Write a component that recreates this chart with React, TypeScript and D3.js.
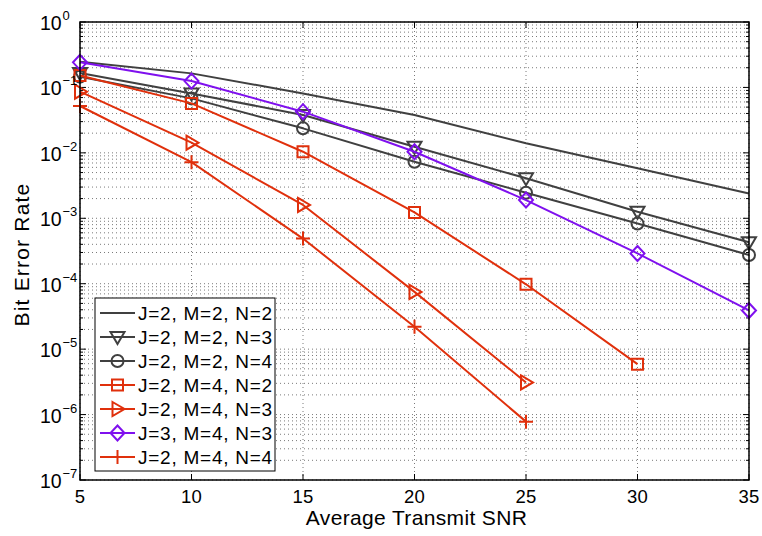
import React from 'react';
import * as d3 from 'd3';

// SNR points (dB) shared by all curves
const snr = [5, 10, 15, 20, 25, 30, 35];

// BER, one array per curve
const berJ2M2N2 = [0.247, 0.164, 0.081, 0.038, 0.014, 0.0058, 0.0024];
const berJ2M2N3 = [0.166, 0.081, 0.038, 0.0124, 0.0041, 0.00126, 0.00043];
const berJ2M2N4 = [0.146, 0.068, 0.0237, 0.0073, 0.00246, 0.00083, 0.000275];
const berJ2M4N2 = [0.152, 0.057, 0.0104, 0.00123, 9.8e-5, 5.9e-6];
const berJ2M4N3 = [0.086, 0.0143, 0.0016, 7.5e-5, 3.1e-6];
const berJ3M4N3 = [0.242, 0.125, 0.0426, 0.0104, 0.0019, 0.00029, 3.9e-5];
const berJ2M4N4 = [0.052, 0.0072, 0.00049, 2.2e-5, 7.8e-7];

const xTicks = [5, 10, 15, 20, 25, 30, 35];
const yExponents = [0, -1, -2, -3, -4, -5, -6, -7];

const GRAY = '#404040';
const RED = '#e0300c';
const PURPLE = '#7f10ee';

type Marker = 'none' | 'v' | 'o' | 's' | '>' | 'd' | '+';

const series: { label: string; values: number[]; color: string; marker: Marker }[] = [
  { label: 'J=2, M=2, N=2', values: berJ2M2N2, color: GRAY, marker: 'none' },
  { label: 'J=2, M=2, N=3', values: berJ2M2N3, color: GRAY, marker: 'v' },
  { label: 'J=2, M=2, N=4', values: berJ2M2N4, color: GRAY, marker: 'o' },
  { label: 'J=2, M=4, N=2', values: berJ2M4N2, color: RED, marker: 's' },
  { label: 'J=2, M=4, N=3', values: berJ2M4N3, color: RED, marker: '>' },
  { label: 'J=3, M=4, N=3', values: berJ3M4N3, color: PURPLE, marker: 'd' },
  { label: 'J=2, M=4, N=4', values: berJ2M4N4, color: RED, marker: '+' },
];

const W = 762;
const H = 536;
const margin = { top: 22, right: 13, bottom: 56, left: 80 };

const x = d3.scaleLinear().domain([5, 35]).range([margin.left, W - margin.right]);
const y = d3.scaleLog().domain([1e-7, 1]).range([H - margin.bottom, margin.top]);

const FONT = '"Liberation Sans", Arial, Helvetica, sans-serif';

function markerPath(m: Marker, cx: number, cy: number): string | null {
  const p = d3.path();
  switch (m) {
    case 'v':
      p.moveTo(cx - 7, cy - 5);
      p.lineTo(cx + 7, cy - 5);
      p.lineTo(cx, cy + 7);
      p.closePath();
      break;
    case '>':
      p.moveTo(cx - 5, cy - 7);
      p.lineTo(cx + 7, cy);
      p.lineTo(cx - 5, cy + 7);
      p.closePath();
      break;
    case 's':
      p.rect(cx - 5.5, cy - 5.5, 11, 11);
      break;
    case 'd':
      p.moveTo(cx, cy - 7.5);
      p.lineTo(cx + 7, cy);
      p.lineTo(cx, cy + 7.5);
      p.lineTo(cx - 7, cy);
      p.closePath();
      break;
    case 'o':
      p.moveTo(cx + 6, cy);
      p.arc(cx, cy, 6, 0, Math.PI * 2);
      break;
    case '+':
      p.moveTo(cx - 7, cy);
      p.lineTo(cx + 7, cy);
      p.moveTo(cx, cy - 7);
      p.lineTo(cx, cy + 7);
      break;
    default:
      return null;
  }
  return p.toString();
}

const MarkerShape = ({ m, cx, cy, color }: { m: Marker; cx: number; cy: number; color: string }) => {
  const d = markerPath(m, cx, cy);
  if (!d) return null;
  return <path d={d} fill="none" stroke={color} strokeWidth={2} />;
};

export default function App() {
  const x0 = margin.left;
  const x1 = W - margin.right;
  const y0 = H - margin.bottom;
  const y1 = margin.top;

  // minor log values 2..9 per decade
  const minor: number[] = [];
  for (let e = -7; e < 0; e++) {
    for (let k = 2; k <= 9; k++) minor.push(k * Math.pow(10, e));
  }

  const line = d3
    .line<number>()
    .x((_, i) => x(snr[i]))
    .y((d) => y(d));

  const legend = { left: 95, top: 298, width: 180, height: 173, row0: 313, step: 24 };

  return (
    <svg width={W} height={H} style={{ position: 'absolute', left: 0, top: 0 }} fontFamily={FONT}>
      <rect width={W} height={H} fill="#fff" />

      {/* grid */}
      <g stroke="#7a7a7a" strokeWidth={1} strokeDasharray="1,3" fill="none">
        {xTicks.map((t) => (
          <line key={`gx${t}`} x1={x(t)} x2={x(t)} y1={y0} y2={y1} />
        ))}
        {yExponents.map((e) => (
          <line key={`gy${e}`} x1={x0} x2={x1} y1={y(Math.pow(10, e))} y2={y(Math.pow(10, e))} />
        ))}
        {minor.map((v, i) => (
          <line key={`gm${i}`} x1={x0} x2={x1} y1={y(v)} y2={y(v)} />
        ))}
      </g>

      {/* ticks */}
      <g stroke="#000" strokeWidth={1}>
        {xTicks.map((t) => (
          <g key={`tx${t}`}>
            <line x1={x(t)} x2={x(t)} y1={y0} y2={y0 - 6} />
            <line x1={x(t)} x2={x(t)} y1={y1} y2={y1 + 6} />
          </g>
        ))}
        {yExponents.map((e) => (
          <g key={`ty${e}`}>
            <line x1={x0} x2={x0 + 6} y1={y(Math.pow(10, e))} y2={y(Math.pow(10, e))} />
            <line x1={x1} x2={x1 - 6} y1={y(Math.pow(10, e))} y2={y(Math.pow(10, e))} />
          </g>
        ))}
        {minor.map((v, i) => (
          <g key={`tm${i}`}>
            <line x1={x0} x2={x0 + 3} y1={y(v)} y2={y(v)} />
            <line x1={x1} x2={x1 - 3} y1={y(v)} y2={y(v)} />
          </g>
        ))}
      </g>

      {/* curves */}
      {series.map((s) => (
        <g key={s.label}>
          <path d={line(s.values) ?? ''} fill="none" stroke={s.color} strokeWidth={2} strokeLinejoin="round" />
          {s.values.map((v, i) => (
            <MarkerShape key={i} m={s.marker} cx={x(snr[i])} cy={y(v)} color={s.color} />
          ))}
        </g>
      ))}

      {/* frame */}
      <rect x={x0} y={y1} width={x1 - x0} height={y0 - y1} fill="none" stroke="#000" strokeWidth={1.5} />

      {/* x tick labels */}
      {xTicks.map((t) => (
        <text key={`lx${t}`} x={x(t)} y={502.5} textAnchor="middle" fontSize={18.5} letterSpacing={0.3} fill="#000">
          {t}
        </text>
      ))}

      {/* y tick labels */}
      {yExponents.map((e) => {
        const yy = y(Math.pow(10, e));
        return (
          <g key={`ly${e}`} fill="#000">
            <text x={40} y={yy + 8} fontSize={19.5}>
              10
            </text>
            <text x={62.5} y={yy - 2} fontSize={13}>
              {e === 0 ? '0' : `\u2212${-e}`}
            </text>
          </g>
        );
      })}

      {/* axis labels */}
      <text x={416.5} y={525} textAnchor="middle" fontSize={21} letterSpacing={0.35} fill="#000">
        Average Transmit SNR
      </text>
      <text
        transform={`translate(29,254.5) rotate(-90)`}
        textAnchor="middle"
        fontSize={21}
        letterSpacing={1.2}
        fill="#000"
      >
        Bit Error Rate
      </text>

      {/* legend */}
      <g>
        <rect
          x={legend.left}
          y={legend.top}
          width={legend.width}
          height={legend.height}
          fill="#fff"
          stroke="#000"
          strokeWidth={1}
        />
        {series.map((s, i) => {
          const cy = legend.row0 + i * legend.step;
          return (
            <g key={`lg${i}`}>
              <line x1={100} x2={135} y1={cy} y2={cy} stroke={s.color} strokeWidth={2} />
              <MarkerShape m={s.marker} cx={117.5} cy={cy} color={s.color} />
              <text x={138} y={cy + 7} fontSize={19} letterSpacing={0.75} fill="#000">
                {s.label}
              </text>
            </g>
          );
        })}
      </g>
    </svg>
  );
}
